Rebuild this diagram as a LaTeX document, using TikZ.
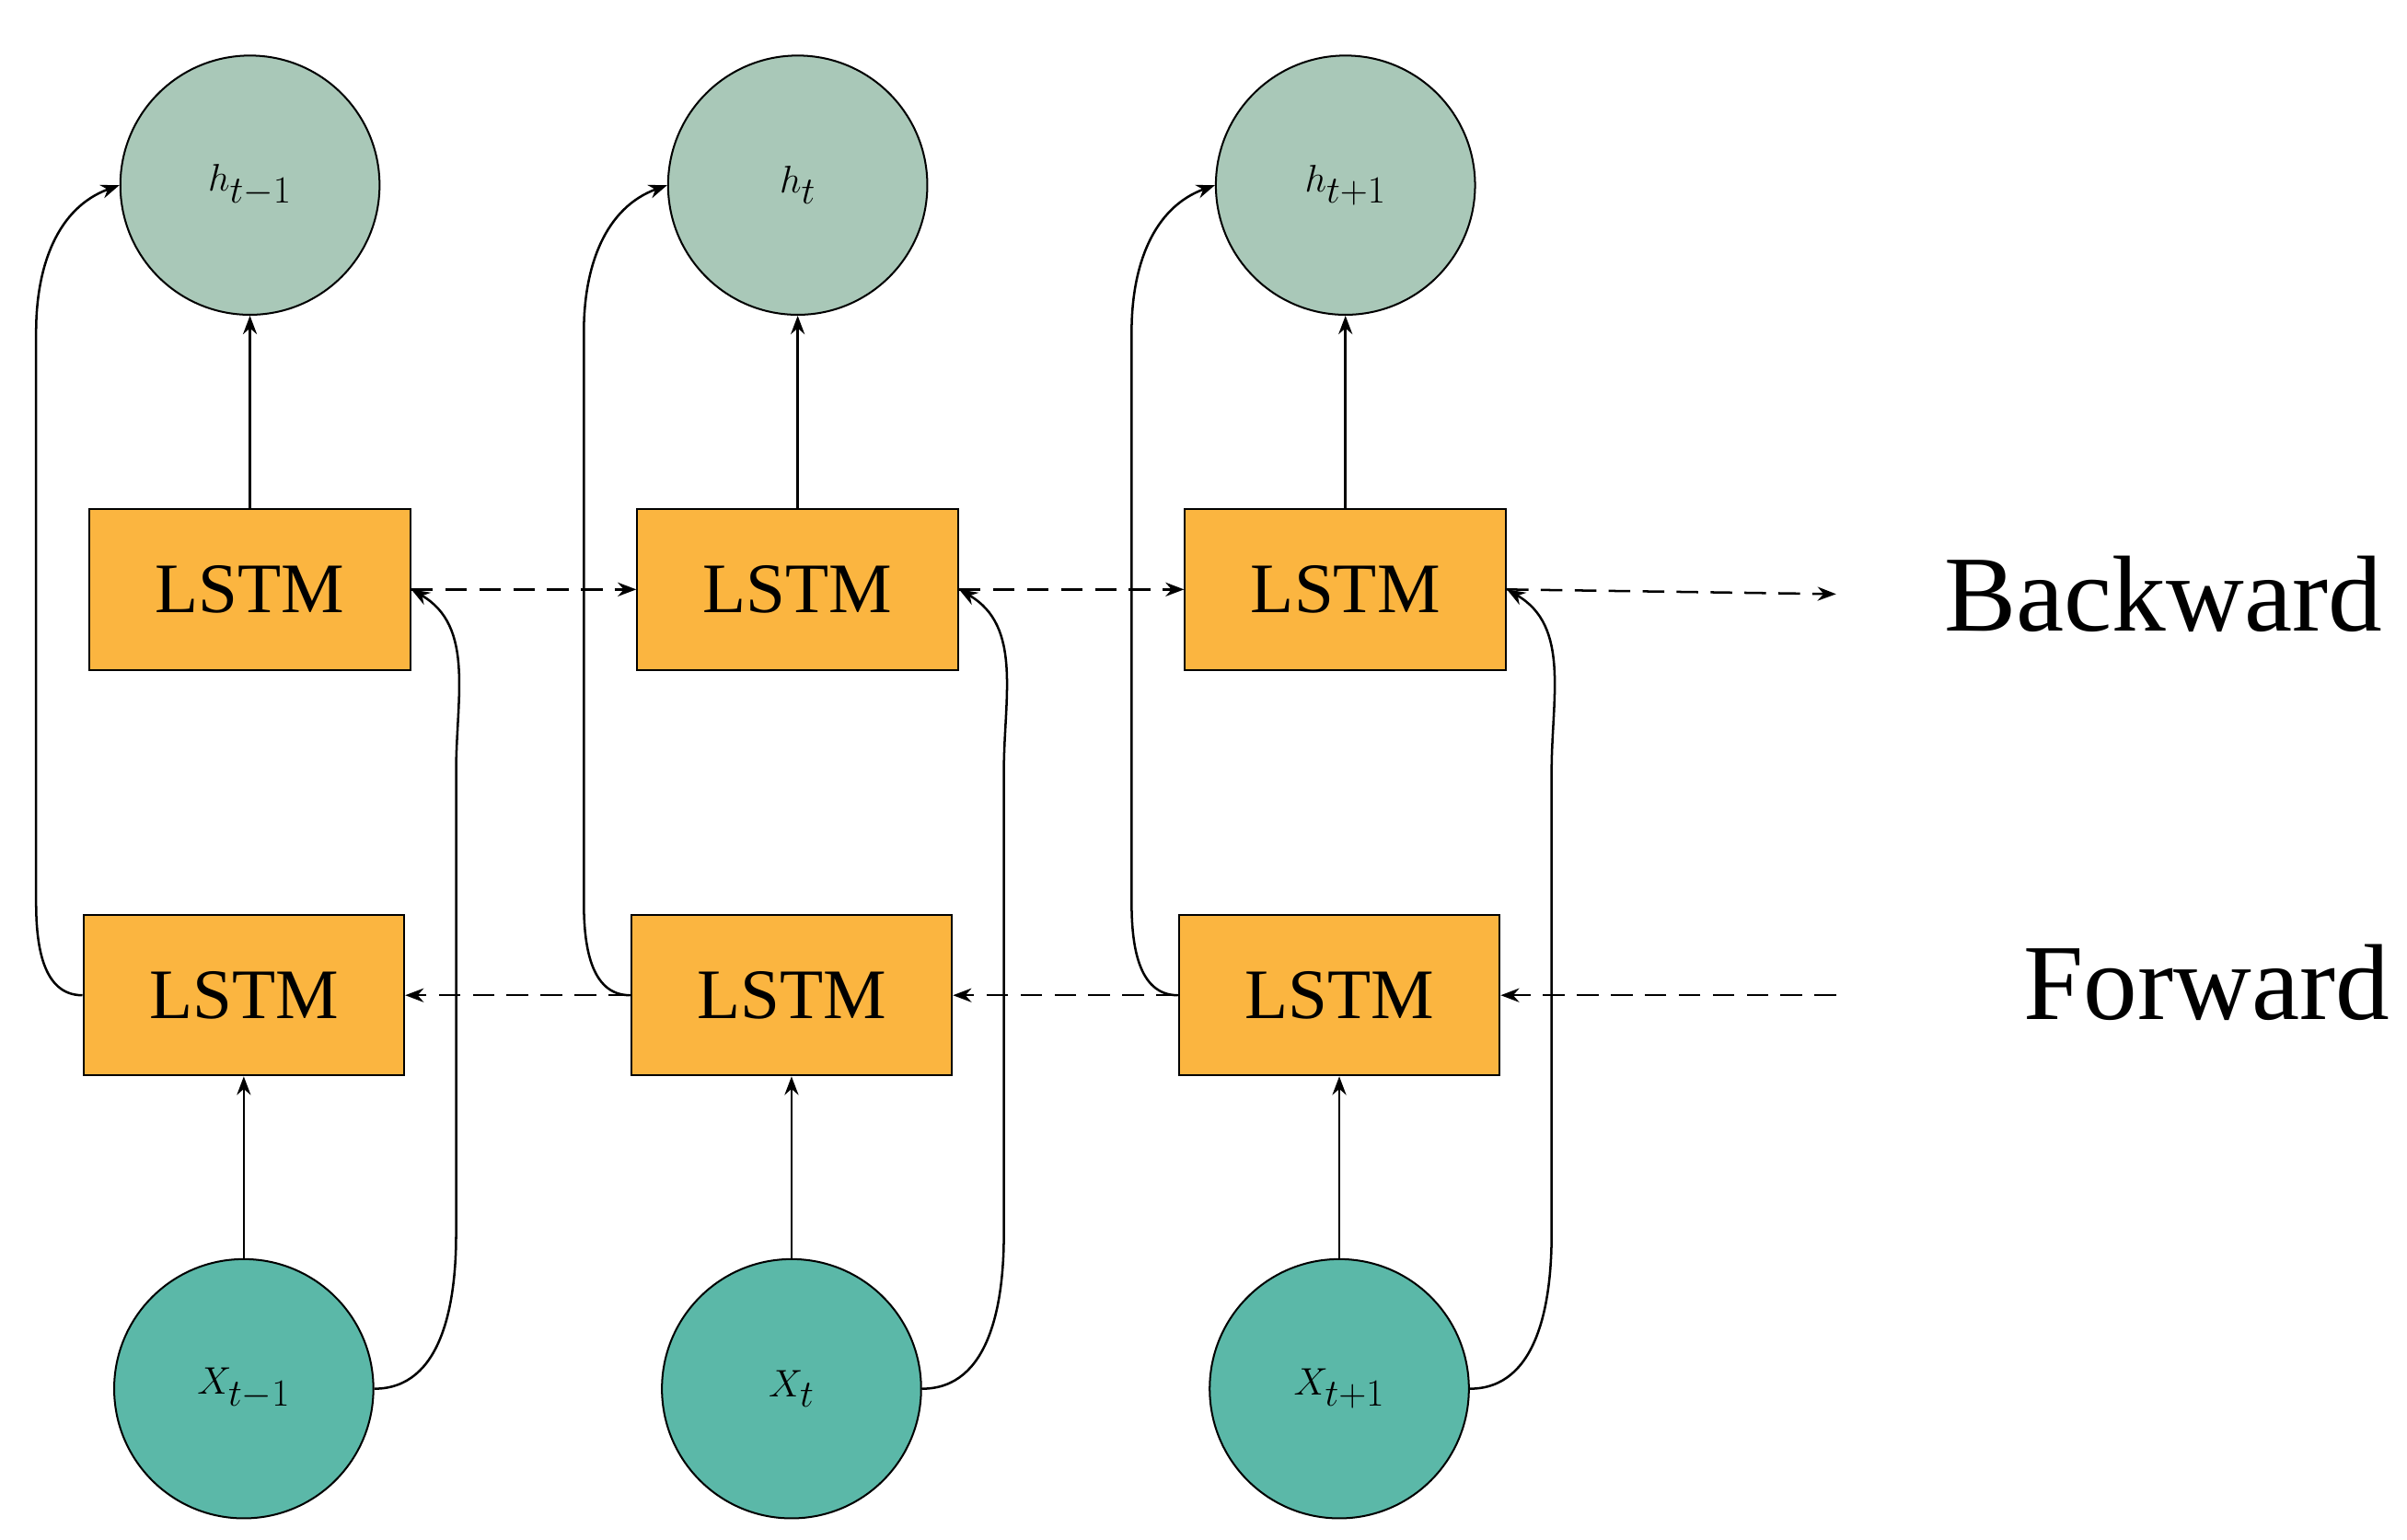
\documentclass[tikz,border=0pt]{standalone}
\usepackage{fontspec}
\setmainfont{Liberation Serif}
\usetikzlibrary{arrows.meta}
\definecolor{hcol}{HTML}{A9C8B8}
\definecolor{xcol}{HTML}{5BB8A8}
\definecolor{bcol}{HTML}{FBB540}
\begin{document}
\begin{tikzpicture}[x=1pt,y=-1pt,
 circ/.style={circle,draw,line width=1.2pt,minimum size=168pt,inner sep=0pt},
 box/.style={draw,line width=1.2pt,fill=bcol,minimum width=208pt,minimum height=104pt,inner sep=0pt,font=\fontsize{46}{46}\selectfont},
 arr/.style={line width=1.5pt,-{Stealth[length=12pt,width=9pt]}},
 dsh/.style={arr,dash pattern=on 14pt off 8pt},
 lab/.style={font=\fontsize{70}{70}\selectfont}]
\useasboundingbox (0,0) rectangle (1560,998);
\foreach \i/\x/\s in {1/0/{t-1},2/355/{t},3/710/{t+1}}{
 \node[circ,fill=hcol] (h\i) at (162+\x,120) {\fontsize{100}{100}\selectfont$h_{\s}$};
 \node[box] (u\i) at (162+\x,382) {LSTM};
 \node[box] (l\i) at (158+\x,645) {LSTM};
 \node[circ,fill=xcol] (x\i) at (158+\x,900) {\fontsize{100}{100}\selectfont$X_{\s}$};
 \draw[arr] (u\i) -- (h\i);
 \draw[arr] (x\i) -- (l\i);
 \draw[arr] (l\i.west) to[out=180,in=270] ++(-30,-60) -- ++(0,-370) to[out=90,in=200] (h\i.west);
 \draw[arr] (x\i.east) to[out=0,in=270] ++(53,-100) -- ++(0,-300) to[out=90,in=-30] (u\i.east);
}
\draw[dsh] (u1) -- (u2);
\draw[dsh] (u2) -- (u3);
\coordinate (be) at (1190,385);
\coordinate (fs) at (1190,645);
\draw[dsh] (u3.east) -- (be);
\draw[dsh] (l3) -- (l2);
\draw[dsh] (l2) -- (l1);
\draw[dsh] (fs) -- (l3.east);
\node[lab] (bw) at (1402,385) {Backward};
\node[lab] (fw) at (1430,637) {Forward};
\end{tikzpicture}
\end{document}
